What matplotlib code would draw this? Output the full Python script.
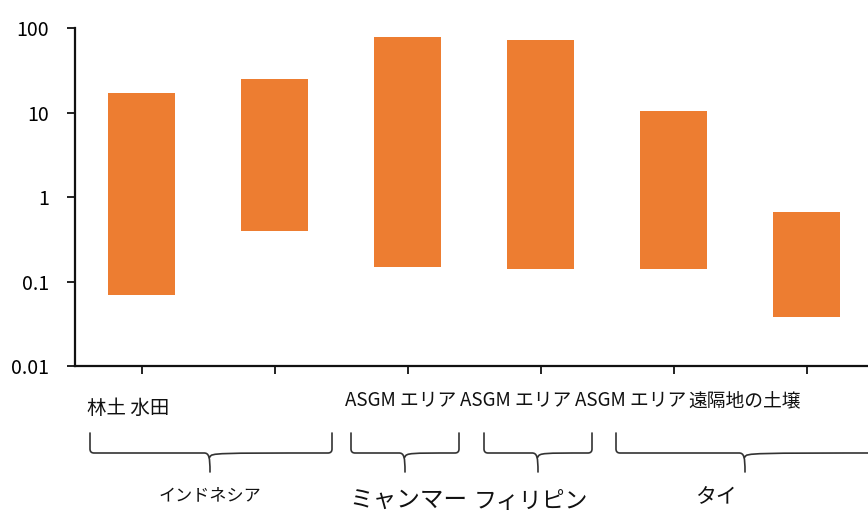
import matplotlib
matplotlib.use("Agg")
import matplotlib.pyplot as plt
from matplotlib.path import Path
from matplotlib.patches import PathPatch
import numpy as np

plt.rcParams['font.family'] = ['Noto Sans CJK JP', 'DejaVu Sans']

# Concentration ranges (min / max) for each sampling site
sites = ["林土 水田", "", "ASGM エリア", "ASGM エリア", "ASGM エリア", "遠隔地の土壌"]
low = [0.07, 0.40, 0.15, 0.14, 0.14, 0.038]
high = [17.0, 25.0, 78.0, 72.0, 10.5, 0.66]
yticks = [0.01, 0.1, 1, 10, 100]
ytick_labels = ["0.01", "0.1", "1", "10", "100"]

# Country groups shown under the site labels
countries = ["インドネシア", "ミャンマー", "フィリピン", "タイ"]

W, H = 868, 511
fig = plt.figure(figsize=(W / 100, H / 100), dpi=100)

ax_left, ax_right, ax_top, ax_bot = 75, 873, 28, 366
ax = fig.add_axes([ax_left / W, 1 - ax_bot / H,
                   (ax_right - ax_left) / W, (ax_bot - ax_top) / H])

x = np.arange(len(low))
heights = np.array(high) - np.array(low)
ax.bar(x, heights, bottom=low, width=0.5, color="#ED7D31", zorder=2)

ax.set_yscale("log")
ax.set_ylim(0.01, 100)
ax.set_xlim(-0.5, 5.5)
ax.set_yticks(yticks)
ax.set_yticklabels(ytick_labels, fontsize=14)
ax.yaxis.set_minor_locator(matplotlib.ticker.NullLocator())
ax.set_xticks(x)
ax.set_xticklabels([])
for s in ("top", "right"):
    ax.spines[s].set_visible(False)
for s in ("left", "bottom"):
    ax.spines[s].set_linewidth(1.6)
    ax.spines[s].set_color("#111111")
ax.tick_params(axis="both", length=5.5, width=1.3, color="#111111")
ax.tick_params(axis="y", pad=13)

# Overlay in pixel coordinates for the category labels and braces
ov = fig.add_axes([0, 0, 1, 1], zorder=5)
ov.set_xlim(0, W)
ov.set_ylim(H, 0)
ov.axis("off")
ov.patch.set_alpha(0)

site_pos = [(128, 408, 14), None, (401, 401, 13.5), (516, 401, 13.5),
            (631, 401, 13.5), (745, 401, 13.5)]
for label, pos in zip(sites, site_pos):
    if pos and label:
        ov.text(pos[0], pos[1], label, ha="center", va="center", fontsize=pos[2],
                color="#111111")


def brace(x0, x1, xm, yt=433, yh=453, yb=472, r=4):
    verts = [
        (x0, yt), (x0, yh - r), (x0, yh), (x0 + r, yh),
        (xm - 6, yh), (xm - 1, yh), (xm, yh + 4), (xm, yb),
        (xm, yh + 4), (xm + 1, yh), (xm + 6, yh),
        (x1 - r, yh), (x1, yh), (x1, yh - r), (x1, yt),
    ]
    codes = [
        Path.MOVETO, Path.LINETO, Path.CURVE3, Path.CURVE3,
        Path.LINETO, Path.CURVE4, Path.CURVE4, Path.LINETO,
        Path.MOVETO, Path.CURVE4, Path.CURVE4,
        Path.LINETO, Path.CURVE3, Path.CURVE3, Path.LINETO,
    ]
    ov.add_patch(PathPatch(Path(verts, codes), fill=False, lw=1.2,
                           edgecolor="#333333", capstyle="round"))


brace(90, 332, 210)
brace(351, 459, 405)
brace(484, 592, 538)
brace(616, 900, 745)

group_pos = [(210, 495, 12.3), (408, 501, 17), (531, 501, 16.5), (716, 497, 15)]
for label, (gx, gy, fs) in zip(countries, group_pos):
    ov.text(gx, gy, label, ha="center", va="center", fontsize=fs, color="#111111")

fig.savefig("out.png", dpi=100)
